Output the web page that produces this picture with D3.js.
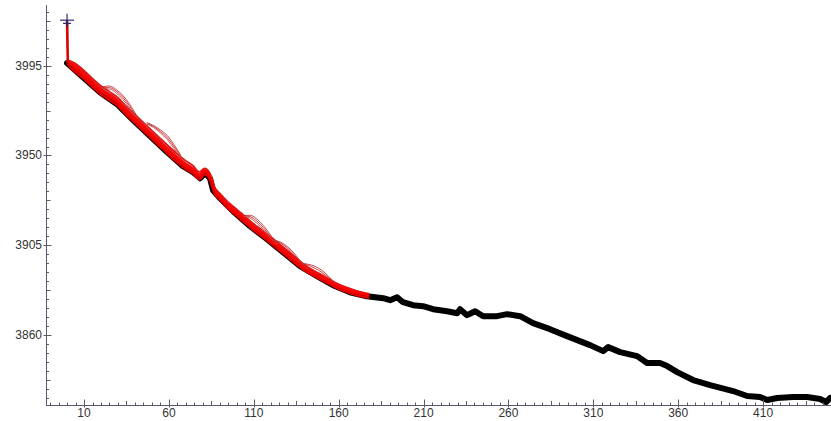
<!DOCTYPE html>
<html>
<head>
<meta charset="utf-8">
<script src="https://cdn.jsdelivr.net/npm/d3@7/dist/d3.min.js"></script>
<style>
  html, body { margin: 0; padding: 0; background: #fff; }
  svg { display: block; }
  .tick-label { font-family: "Liberation Sans", Arial, sans-serif; font-size: 12px; fill: #333; }
</style>
</head>
<body>
<svg id="chart" width="831" height="421"></svg>
<script>
// Observed series (black)
const blackX = [0, 9.4, 19.4, 29.5, 38.9, 48.9, 58.9, 68.3, 74.2, 78.4, 81.3, 84.2, 86, 90.1, 97.8, 107.8, 117.8, 127.2, 137.3, 147.3, 156.7, 166.7, 176.7, 186.2, 190.3, 194.4, 197.9, 203.8, 209.7, 215.6, 223.9, 229.8, 231.5, 235.6, 240.4, 245.1, 253.3, 259.2, 266.9, 274.5, 284.5, 294.5, 308.1, 315.8, 318.7, 325.8, 335.8, 341.7, 349.3, 353.5, 359.4, 368.8, 378.8, 392.3, 400.6, 408.2, 412.4, 418.3, 427.7, 435.9, 443.6, 447.1, 449.5];
const blackY = [3996.3, 3989.2, 3981.7, 3975.7, 3967.7, 3959.7, 3951.7, 3944.6, 3941.6, 3938.6, 3941.1, 3938.6, 3932.6, 3928.6, 3922.1, 3914.6, 3908.1, 3901.6, 3894.5, 3889.5, 3885, 3881.5, 3879.5, 3878.5, 3877.5, 3879, 3876.5, 3875, 3874.5, 3873, 3872, 3871, 3873, 3870, 3872, 3869.5, 3869.5, 3870.5, 3869.5, 3866, 3863, 3859.5, 3855, 3852, 3854, 3851.5, 3849.5, 3846, 3846, 3844.5, 3841.5, 3837.5, 3835, 3832, 3829.5, 3829, 3827.5, 3828.5, 3829, 3829, 3828, 3826.5, 3828.5];

// Fitted paths (red), sampled on a shared grid
const redX = [0, 0.6, 5, 10, 15, 20, 25, 30, 35, 40, 45, 50, 55, 60, 65, 70, 74, 78, 81, 84, 87, 90, 95, 100, 105, 110, 115, 120, 125, 130, 135, 140, 145, 150, 155, 160, 165, 170, 175, 178];
const redA = [4017.8, 3995.8, 3991.9, 3988.4, 3984.4, 3980.7, 3977.9, 3974.9, 3970.4, 3966.4, 3962.4, 3958.4, 3954.4, 3950.4, 3946.6, 3943.2, 3941.2, 3938.2, 3940.6, 3938.2, 3930.9, 3928, 3923.4, 3919.9, 3916.2, 3912.6, 3909.4, 3906.1, 3902.6, 3899.2, 3895.7, 3892.4, 3889.9, 3887.7, 3885.4, 3883.2, 3881.6, 3880.2, 3879.2, 3878.8];
const redB = [3996.8, 3996.8, 3993.5, 3990, 3986, 3982.3, 3979.5, 3976.5, 3972, 3968, 3964, 3960, 3956, 3952, 3948.2, 3944.8, 3942.7, 3939.7, 3942, 3939.6, 3932.3, 3929.4, 3924.8, 3921.3, 3917.6, 3914, 3910.8, 3907.4, 3903.9, 3900.5, 3897, 3893.6, 3891.1, 3888.9, 3886.6, 3884.4, 3882.8, 3881.4, 3880.4, 3880];
const redC = [3997, 3997, 3995, 3991.5, 3987.3, 3983.5, 3980.7, 3977.6, 3973.1, 3969.1, 3965, 3961, 3957, 3953, 3949.2, 3945.8, 3943.6, 3940.6, 3942.8, 3940.4, 3933, 3930.1, 3925.5, 3921.9, 3918.2, 3914.6, 3911.4, 3908, 3904.5, 3901.1, 3897.6, 3894.2, 3891.7, 3889.5, 3887.2, 3885, 3883.4, 3882, 3880.9, 3880.4];
const redD = [3997.5, 3997.5, 3996, 3992.5, 3988.5, 3984.8, 3982, 3979, 3974.5, 3970.5, 3966.5, 3962.5, 3958.5, 3954.5, 3950.7, 3947.3, 3945, 3941.8, 3943.5, 3941.3, 3934, 3931, 3926.5, 3923, 3919.3, 3915.7, 3912.5, 3909.2, 3905.7, 3902.3, 3898.6, 3895.2, 3892.5, 3890.2, 3887.8, 3885.5, 3883.8, 3882.3, 3881.2, 3880.7];

// Short forecast runs that lift away from the band
const arcSetAX = [21, 25, 29, 33, 37, 41];
const arcA1 = [3984.5, 3984.8, 3983, 3980, 3975.5, 3970];
const arcA2 = [3984, 3984, 3982.2, 3979, 3974.5, 3969.5];
const arcA3 = [3983.5, 3983.3, 3981.3, 3978, 3973.5, 3969];
const arcSetBX = [47, 51, 55, 59, 63, 67];
const arcB1 = [3966.5, 3965, 3962.8, 3960, 3955.5, 3950];
const arcB2 = [3966, 3964.5, 3962, 3959, 3954.5, 3949.5];
const arcB3 = [3965.8, 3964, 3961.3, 3958, 3953.5, 3949];
const arcSetCX = [104, 108, 112, 116, 120, 124];
const arcC1 = [3920, 3920, 3918, 3914.5, 3910, 3905.5];
const arcC2 = [3919.8, 3919.3, 3917, 3913.5, 3909.2, 3905.2];
const arcC3 = [3919.5, 3918.5, 3916, 3912.5, 3908.5, 3905];
const arcSetDX = [122, 126, 130, 134, 138, 142];
const arcD1 = [3907.5, 3906.5, 3904.2, 3900.8, 3896.5, 3893];
const arcD2 = [3907.2, 3906, 3903.5, 3900, 3896, 3893];
const arcSetEX = [138, 142, 146, 150, 154, 158];
const arcE1 = [3896, 3895.5, 3894.5, 3892.5, 3889.5, 3886];
const arcE2 = [3895.8, 3895, 3893.5, 3891.5, 3888.8, 3885.8];

// Starting value markers and guide line
const startX = [0];
const startY = [4017.8, 4016.2];
const guideX = [0.4, 0.4];
const guideY = [4016, 3996.5];

// Axis ticks
const xTickLabels = [10, 60, 110, 160, 210, 260, 310, 360, 410];
const yTickLabels = [3860, 3905, 3950, 3995];

const svg = d3.select("#chart");

const x = d3.scaleLinear().domain([-12.4, 450]).range([46, 831]);
const y = d3.scaleLinear().domain([3825, 4025.4]).range([405, 5]);

const axisColor = "#5a5a6c";

const plot = svg.append("g");
svg.append("clipPath").attr("id", "clip")
  .append("rect").attr("x", 46).attr("y", 0).attr("width", 785).attr("height", 406);

const toPts = (xs, ys) => xs.map((v, i) => [v, ys[i]]);
const lineLin = d3.line().x(d => x(d[0])).y(d => y(d[1]));
const lineSmooth = d3.line().x(d => x(d[0])).y(d => y(d[1])).curve(d3.curveMonotoneX);

const g = plot.append("g").attr("clip-path", "url(#clip)");

// black observed series
g.append("path")
  .attr("d", lineLin(toPts(blackX, blackY)))
  .attr("fill", "none").attr("stroke", "#000")
  .attr("stroke-width", 6).attr("stroke-linejoin", "round").attr("stroke-linecap", "round");

// guide line at start
g.append("path")
  .attr("d", lineLin(toPts(guideX, guideY)))
  .attr("fill", "none").attr("stroke", "#c8c8c8").attr("stroke-width", 2);

// red band
[[redD, "#d81818", 1.8], [redC, "#ee1111", 2.6], [redB, "#ff0000", 2.6], [redA, "#e00000", 2.6]].forEach(([ys, c, w]) => {
  g.append("path")
    .attr("d", lineSmooth(toPts(redX, ys)))
    .attr("fill", "none").attr("stroke", c).attr("stroke-width", w)
    .attr("stroke-linejoin", "round");
});

// forecast runs
const arcs = [
  [arcSetAX, arcA1, "#a83a3a"], [arcSetAX, arcA2, "#e02020"], [arcSetAX, arcA3, "#c04848"],
  [arcSetBX, arcB1, "#a83a3a"], [arcSetBX, arcB2, "#e02020"], [arcSetBX, arcB3, "#c04848"],
  [arcSetCX, arcC1, "#a83a3a"], [arcSetCX, arcC2, "#e02020"], [arcSetCX, arcC3, "#c04848"],
  [arcSetDX, arcD1, "#a83a3a"], [arcSetDX, arcD2, "#e02020"],
  [arcSetEX, arcE1, "#a83a3a"], [arcSetEX, arcE2, "#e02020"]
];
arcs.forEach(([xs, ys, c]) => {
  g.append("path")
    .attr("d", lineSmooth(toPts(xs, ys)))
    .attr("fill", "none").attr("stroke", c).attr("stroke-width", 0.9);
});

// start markers
startY.forEach((v, i) => {
  const cx = x(startX[0]), cy = y(v);
  const hw = i === 0 ? 7 : 4, hh = i === 0 ? 6.5 : 2.5;
  plot.append("line").attr("x1", cx - hw).attr("x2", cx + hw).attr("y1", cy).attr("y2", cy)
    .attr("stroke", "#2a2a6a").attr("stroke-width", 1.2);
  plot.append("line").attr("x1", cx).attr("x2", cx).attr("y1", cy - hh).attr("y2", cy + hh)
    .attr("stroke", "#2a2a6a").attr("stroke-width", 1.2);
});

// axes
const axes = svg.append("g");
axes.append("line").attr("x1", 46).attr("x2", 831).attr("y1", 405.5).attr("y2", 405.5)
  .attr("stroke", axisColor).attr("stroke-width", 1);
axes.append("line").attr("x1", 46.5).attr("x2", 46.5).attr("y1", 5).attr("y2", 405)
  .attr("stroke", axisColor).attr("stroke-width", 1);

// x ticks: minor every 5, medium at half-steps, major at labels
const xLabelSet = new Set(xTickLabels);
d3.range(-10, 451, 5).forEach(v => {
  const px = Math.round(x(v)) + 0.5;
  const major = xLabelSet.has(v);
  const medium = !major && ((v - 35) % 50 === 0);
  const up = major ? 5.5 : medium ? 4 : 2.5;
  const down = major ? 2 : 0;
  axes.append("line").attr("x1", px).attr("x2", px).attr("y1", 405 - up).attr("y2", 405.5 + down)
    .attr("stroke", axisColor).attr("stroke-width", 1);
});
xTickLabels.forEach(v => {
  axes.append("text").attr("class", "tick-label")
    .attr("x", x(v)).attr("y", 417).attr("text-anchor", "middle").text(v);
});

// y ticks: minor every 4.5, medium at half-steps, major at labels
d3.range(-38, 7).forEach(n => {
  const v = 3995 + 4.5 * n;
  const py = Math.round(y(v)) + 0.5;
  if (py < 5 || py > 405) return;
  const major = n % 10 === 0;
  const medium = !major && n % 5 === 0;
  const right = major ? 5 : medium ? 4 : 2.5;
  const left = major ? 3 : 0;
  axes.append("line").attr("x1", 46.5 - left).attr("x2", 46.5 + right).attr("y1", py).attr("y2", py)
    .attr("stroke", axisColor).attr("stroke-width", 1);
});
yTickLabels.forEach(v => {
  axes.append("text").attr("class", "tick-label")
    .attr("x", 42).attr("y", y(v) + 4).attr("text-anchor", "end").text(v);
});
</script>
</body>
</html>
